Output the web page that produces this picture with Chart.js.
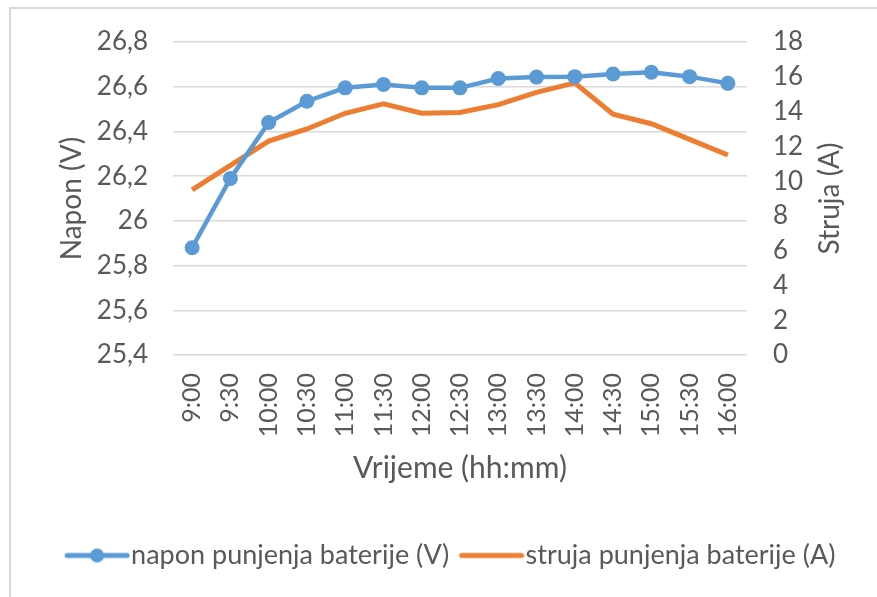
<!DOCTYPE html>
<html>
<head>
<meta charset="utf-8">
<script src="https://cdn.jsdelivr.net/npm/chart.js@4/dist/chart.umd.min.js"></script>
<style>
html,body{margin:0;padding:0;background:#fff;}
#wrap{width:877px;height:597px;position:relative;}
</style>
</head>
<body>
<div id="wrap"><canvas id="c" width="877" height="597"></canvas></div>
<script>
// ---- data ----
const categories = ['9:00','9:30','10:00','10:30','11:00','11:30','12:00','12:30','13:00','13:30','14:00','14:30','15:00','15:30','16:00'];
const voltage = [25.88, 26.19, 26.44, 26.535, 26.595, 26.61, 26.595, 26.595, 26.637, 26.643, 26.645, 26.657, 26.665, 26.645, 26.615];
const current = [9.5, 10.9, 12.3, 13.0, 13.9, 14.45, 13.9, 13.95, 14.4, 15.1, 15.65, 13.85, 13.3, 12.4, 11.5];
const voltTicks = [25.4, 25.6, 25.8, 26.0, 26.2, 26.4, 26.6, 26.8];
const voltTickLabels = ['25,4','25,6','25,8','26','26,2','26,4','26,6','26,8'];
const ampTicks = [0, 2, 4, 6, 8, 10, 12, 14, 16, 18];
const ampTickLabels = ['0','2','4','6','8','10','12','14','16','18'];
const seriesNames = ['napon punjenja baterije (V)', 'struja punjenja baterije (A)'];
const axisTitles = {x: 'Vrijeme (hh:mm)', y: 'Napon (V)', y1: 'Struja (A)'};

const BLUE = '#5B9BD5', ORANGE = '#ED7D31', TXT = '#595959', GRID = '#d9d9d9';
const FONT = 'Lato';

function legendImg(color, withDot) {
  const c = document.createElement('canvas');
  c.width = 78; c.height = 16;
  const g = c.getContext('2d');
  g.strokeStyle = color; g.lineWidth = 5; g.lineCap = 'round';
  g.beginPath(); g.moveTo(15, 8); g.lineTo(75, 8); g.stroke();
  if (withDot) { g.fillStyle = color; g.beginPath(); g.arc(45, 8, 7, 0, Math.PI * 2); g.fill(); }
  return c;
}
const legendImgs = [legendImg(BLUE, true), legendImg(ORANGE, false)];

const framePlugin = {
  id: 'frame',
  beforeDraw(chart) {
    const ctx = chart.ctx;
    ctx.save();
    ctx.fillStyle = '#fff';
    ctx.fillRect(0, 0, chart.width, chart.height);
    ctx.strokeStyle = GRID; ctx.lineWidth = 2;
    ctx.beginPath();
    ctx.moveTo(10, chart.height); ctx.lineTo(10, 8); ctx.lineTo(chart.width, 8);
    ctx.stroke();
    ctx.restore();
  }
};
const rightTitlePlugin = {
  id: 'rightTitle',
  afterDraw(chart) {
    const ctx = chart.ctx, a = chart.chartArea;
    ctx.save();
    ctx.translate(830, (a.top + a.bottom) / 2);
    ctx.rotate(-Math.PI / 2);
    ctx.font = '28px ' + FONT;
    ctx.fillStyle = TXT;
    ctx.textAlign = 'center'; ctx.textBaseline = 'middle';
    ctx.fillText(axisTitles.y1, 0, 0);
    ctx.restore();
  }
};

new Chart(document.getElementById('c'), {
  type: 'line',
  data: {
    labels: categories,
    datasets: [
      { label: seriesNames[0], data: voltage, yAxisID: 'y', borderColor: BLUE, backgroundColor: BLUE,
        borderWidth: 4.5, pointRadius: 7.5, pointHoverRadius: 7.5, pointBackgroundColor: BLUE, pointBorderWidth: 0, tension: 0 },
      { label: seriesNames[1], data: current, yAxisID: 'y1', borderColor: ORANGE, backgroundColor: ORANGE,
        borderWidth: 5, pointRadius: 0, tension: 0 }
    ]
  },
  options: {
    responsive: false,
    animation: false,
    devicePixelRatio: 1,
    layout: { padding: { left: 40, right: 17, top: 42, bottom: 18 } },
    plugins: {
      tooltip: { enabled: false },
      legend: {
        position: 'bottom',
        labels: {
          usePointStyle: true,
          pointStyleWidth: 53,
          boxHeight: 16,
          padding: 10,
          color: TXT,
          font: { family: FONT, size: 27 },
          generateLabels: () => seriesNames.map((n, i) => ({
            text: n, pointStyle: legendImgs[i], datasetIndex: i, hidden: false,
            fontColor: TXT, lineWidth: 0, strokeStyle: 'transparent', fillStyle: 'transparent'
          }))
        }
      }
    },
    scales: {
      x: {
        type: 'category',
        offset: true,
        grid: { display: false, drawTicks: false },
        border: { display: false },
        ticks: { color: TXT, font: { family: FONT, size: 25 }, minRotation: 90, maxRotation: 90, padding: 18, autoSkip: false },
        title: { display: true, text: axisTitles.x, color: TXT, font: { family: FONT, size: 30 }, padding: { top: 0, bottom: 46 } },
        afterFit(s) { s.height = 177; }
      },
      y: {
        position: 'left',
        min: 25.4, max: 26.8,
        afterBuildTicks(s) { s.ticks = voltTicks.map(v => ({ value: v })); },
        grid: { color: GRID, lineWidth: 1.5, drawTicks: false },
        border: { display: false },
        ticks: { color: TXT, font: { family: FONT, size: 26 }, padding: 25, callback: (v, i) => voltTickLabels[i] },
        title: { display: true, text: axisTitles.y, color: TXT, font: { family: FONT, size: 28 }, padding: { top: 15, bottom: 0 } },
        afterFit(s) { s.width = 133; }
      },
      y1: {
        position: 'right',
        min: 0, max: 18,
        afterBuildTicks(s) { s.ticks = ampTicks.map(v => ({ value: v })); },
        grid: { display: false, drawTicks: false },
        border: { display: false },
        ticks: { color: TXT, font: { family: FONT, size: 26 }, padding: 26, callback: (v, i) => ampTickLabels[i] },
        afterFit(s) { s.width = 113; }
      }
    }
  },
  plugins: [framePlugin, rightTitlePlugin]
});
</script>
</body>
</html>
